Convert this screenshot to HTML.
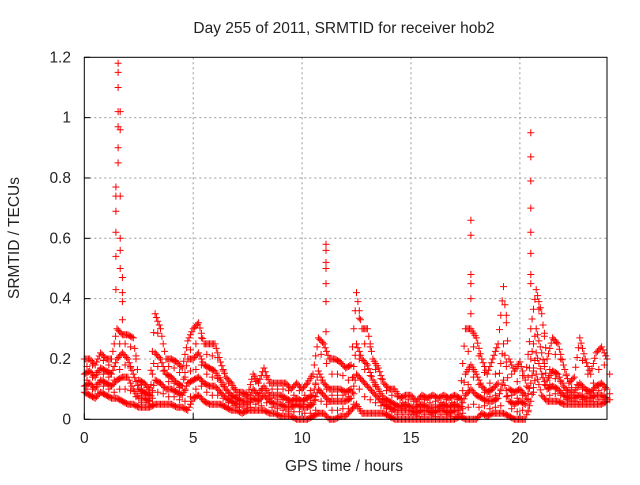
<!DOCTYPE html>
<html><head><meta charset="utf-8"><style>
body{margin:0;background:#fff}
svg text{font-family:"Liberation Sans",sans-serif;font-size:15.5px;fill:#222}
</style></head><body>
<svg id="chart" width="640" height="480" xmlns="http://www.w3.org/2000/svg">
<text x="344" y="33" text-anchor="middle">Day 255 of 2011, SRMTID for receiver hob2</text>
<text x="344" y="471" text-anchor="middle">GPS time / hours</text>
<text transform="translate(19,238) rotate(-90)" text-anchor="middle">SRMTID / TECUs</text>
<g id="grid"></g><g id="axes"></g><g id="marks"></g>
<rect x="84.3" y="57.3" width="522.7" height="362" fill="none" stroke="#000"/>
</svg>
<script>
const xTicks=[0,5,10,15,20];
const yTicks=[0,0.2,0.4,0.6,0.8,1,1.2];
const yTickLabels=["0","0.2","0.4","0.6","0.8","1","1.2"];
const hiVals=[.2,.2,.18,.22,.2,.2,.3,.28,.28,.27,.13,.12,.1,.35,.3,.2,.2,.19,.17,.26,.3,.32,.25,.25,.25,.19,.14,.12,.09,.09,.08,.15,.12,.17,.12,.12,.12,.12,.1,.12,.1,.12,.15,.27,.25,.2,.2,.19,.17,.18,.42,.3,.3,.2,.17,.12,.1,.1,.07,.08,.08,.06,.08,.07,.08,.07,.08,.07,.08,.07,.3,.3,.27,.2,.15,.2,.25,.44,.2,.16,.19,.13,.3,.43,.35,.2,.27,.25,.18,.12,.14,.27,.2,.15,.22,.24,.2];
const midHiVals=[.15,.16,.14,.17,.16,.15,.2,.22,.2,.15,.1,.09,.08,.22,.2,.15,.14,.12,.11,.2,.2,.22,.18,.17,.16,.13,.1,.08,.07,.06,.06,.1,.08,.11,.08,.08,.08,.07,.06,.07,.06,.07,.08,.16,.12,.1,.1,.1,.09,.1,.25,.2,.18,.13,.1,.07,.06,.05,.04,.05,.04,.04,.05,.04,.04,.04,.05,.04,.05,.04,.15,.18,.15,.11,.09,.1,.12,.25,.1,.09,.1,.08,.2,.3,.22,.13,.16,.15,.11,.09,.09,.12,.1,.09,.11,.12,.1];
const midLoVals=[.11,.12,.1,.13,.12,.11,.13,.14,.14,.1,.07,.07,.06,.13,.12,.1,.1,.09,.08,.12,.13,.14,.12,.11,.11,.09,.07,.06,.05,.05,.05,.07,.06,.08,.06,.05,.05,.04,.04,.05,.04,.04,.05,.1,.08,.06,.06,.06,.06,.07,.15,.13,.11,.09,.07,.05,.04,.03,.03,.03,.03,.02,.03,.03,.02,.03,.03,.02,.03,.03,.08,.1,.08,.07,.06,.06,.07,.13,.06,.05,.06,.05,.12,.22,.15,.1,.11,.1,.08,.07,.07,.08,.07,.07,.08,.08,.07];
const loVals=[.09,.08,.07,.09,.08,.07,.07,.06,.05,.05,.04,.04,.04,.05,.05,.05,.05,.04,.04,.03,.07,.08,.06,.05,.05,.05,.04,.03,.03,.02,.03,.03,.03,.03,.02,.02,.01,.01,.01,0,0,0,.01,.02,.02,0,0,.01,.01,.03,.05,.02,.02,.02,.02,.02,.01,0,0,0,0,0,0,0,0,0,0,0,0,.01,0,0,0,.02,.01,.02,.02,.02,.01,0,0,0,.06,.15,.08,.06,.06,.06,.05,.05,.05,.05,.05,.05,.05,.05,.06];
const spikeTimes=[1.45,1.45,1.45,1.45,1.45,1.45,1.55,1.55,1.55,1.55,1.55,1.55,1.55,1.65,1.65,1.65,1.65,1.65,1.65,1.75,1.75,1.75,1.75,11.1,11.1,11.1,11.1,11.1,11.1,11.1,17.75,17.75,17.75,17.75,17.75,17.75,20.5,20.5,20.5,20.5,20.5,20.5,20.5,20.5];
const spikeVals=[.43,.54,.62,.69,.74,.77,1.18,1.15,1.1,1.02,.97,.9,.85,1.02,.96,.74,.6,.56,.5,.47,.42,.39,.33,.58,.56,.52,.5,.45,.39,.29,.66,.61,.48,.45,.4,.35,.95,.87,.79,.7,.62,.55,.48,.45];
const X0=84.3,X1=607,Y0=419.3,Y1=57.3;
function sx(t){return X0+(t/24)*(X1-X0);}
function sy(v){return Y0-(v/1.2)*(Y0-Y1);}
const NS="http://www.w3.org/2000/svg";
const grid=document.getElementById('grid'),axes=document.getElementById('axes'),marks=document.getElementById('marks');
function mk(tag,attrs,parent){const e=document.createElementNS(NS,tag);for(const k in attrs)e.setAttribute(k,attrs[k]);parent.appendChild(e);return e;}
xTicks.forEach(t=>{
  if(t>0){const g=mk('line',{x1:sx(t),x2:sx(t),y1:Y0,y2:Y1,stroke:'#999','stroke-dasharray':'2,3'},grid);
  
  }
  const tk=mk('line',{x1:sx(t),x2:sx(t),y1:Y0,y2:Y0-6,stroke:'#000'},axes);
  
  
  const l=mk('text',{x:sx(t),y:443,'text-anchor':'middle'},axes);l.textContent=t;
  
  
});
yTicks.forEach((v,i)=>{
  if(v>0&&v<1.2){const g=mk('line',{x1:X0,x2:X1,y1:sy(v),y2:sy(v),stroke:'#999','stroke-dasharray':'2,3'},grid);
  
  }
  const tk=mk('line',{x1:X0,x2:X0+6,y1:sy(v),y2:sy(v),stroke:'#000'},axes);
  
  
  const l=mk('text',{x:71,y:sy(v)+5,'text-anchor':'end'},axes);l.textContent=yTickLabels[i];
  
  
});
let d='';
function plus(t,v){
  const x=sx(t),y=sy(v);
  d+=`M${(x-3.5).toFixed(1)},${y.toFixed(1)}h7M${x.toFixed(1)},${(y-3.5).toFixed(1)}v7`;
}
const series=[loVals,midLoVals,midHiVals,hiVals];
series.forEach(s=>{
  s.forEach((v,i)=>{
    plus(i*0.25,v);
    if(i<s.length-1){
      for(let k=1;k<4;k++){const f=k/4;plus((i+f)*0.25,v+(s[i+1]-v)*f);}
    }
  });
});
// fill between adjacent series for density
for(let j=0;j<series.length-1;j++){
  series[j].forEach((v,i)=>{plus(i*0.25+0.125,(v+series[j+1][i])/2);});
}
spikeVals.forEach((v,i)=>plus(spikeTimes[i],v));
const p=mk('path',{d:d,stroke:'#f00','stroke-width':1,fill:'none'},marks);


</script>
</body></html>
